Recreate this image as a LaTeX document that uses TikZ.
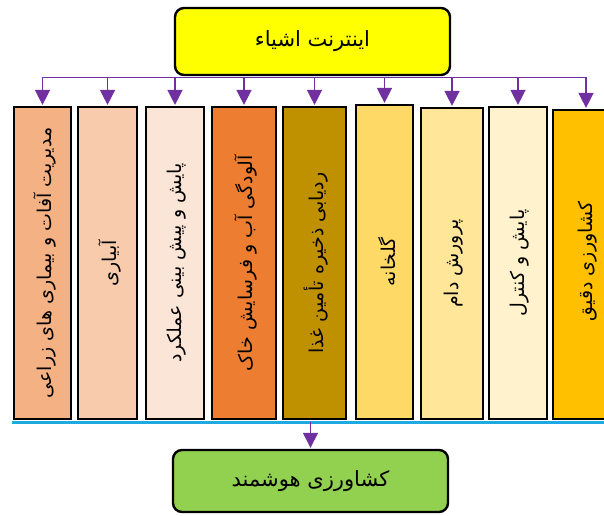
\documentclass[tikz,border=0pt]{standalone}
\usepackage{fontspec}
\usepackage{xcolor}
\usetikzlibrary{arrows.meta}
\newfontfamily\arabicfont[Script=Arabic]{DejaVu Sans}
\TeXXeTstate=1

\definecolor{iotyellow}{HTML}{FFFF00}
\definecolor{smartgreen}{HTML}{92D050}
\definecolor{arrowpurple}{HTML}{7030A0}
\definecolor{baseblue}{HTML}{1FA9E1}
\definecolor{colA}{HTML}{F4B183}
\definecolor{colB}{HTML}{F8CBAD}
\definecolor{colC}{HTML}{FBE5D6}
\definecolor{colD}{HTML}{ED7D31}
\definecolor{colE}{HTML}{BF9000}
\definecolor{colF}{HTML}{FFD966}
\definecolor{colG}{HTML}{FFE699}
\definecolor{colH}{HTML}{FFF2CC}
\definecolor{colI}{HTML}{FFC000}

\begin{document}
\begin{tikzpicture}[x=1pt,y=-1pt,
    box/.style={draw=black,line width=2.4pt,rounded corners=9pt,minimum width=275pt,
                font=\arabicfont\fontsize{21}{24}\selectfont},
    col/.style={draw=black,line width=2.2pt,inner sep=0pt},
    lbl/.style={font=\arabicfont\fontsize{19}{22}\selectfont,rotate=90,inner sep=0pt},
    arr/.style={draw=arrowpurple,line width=1.4pt,-{Triangle[length=15pt,width=15pt]}}]
  \clip (0,0) rectangle (604,515);
  \fill[white] (0,0) rectangle (604,515);

  % Top and bottom boxes
  \node[box,fill=iotyellow,minimum height=67pt] (iot) at (312.5,41.5) {\beginR اینترنت اشیاء\endR};
  \node[box,fill=smartgreen,minimum height=62pt] (smart) at (310.5,481) {\beginR کشاورزی هوشمند\endR};

  % Draw columns
  \foreach \n/\cx/\w/\ty/\clr/\txt in {
      1/42.5/57/107/colA/{مدیریت آفات و بیماری های زراعی},
      2/107.5/59/107/colB/{آبیاری},
      3/175/58/107/colC/{پایش و پیش بینی عملکرد},
      4/244/64/107/colD/{آلودگی آب و فرسایش خاک},
      5/314.5/63/107/colE/{ردیابی ذخیره تأمین غذا},
      6/384.5/57/105/colF/{گلخانه},
      7/452/62/108/colG/{پرورش دام},
      8/518/58/107/colH/{پایش و کنترل},
      9/586/66/110/colI/{کشاورزی دقیق}
  } {
      \node[col,fill=\clr,minimum width=\w pt,minimum height={(419-\ty)*1pt}] (c\n) at (\cx,{(\ty+419)/2}) {};
      \node[lbl] (t\n) at ([xshift=2pt]c\n.center) {\beginR\txt\endR};
      \draw[arr] ([yshift=-1pt]iot.south -| c\n.north) -- ([yshift=1pt]c\n.north);
  }
  \draw[arrowpurple,line width=1.4pt] ([yshift=-1pt]iot.south -| c1.north) -- ([yshift=-1pt]iot.south -| c9.north);

  % Base line and arrow down
  \coordinate (bl) at (12,422);
  \coordinate (br) at (604,422);
  \draw[baseblue,line width=3pt] (bl) -- (br);
  \draw[arr] (smart.north |- bl) -- ([yshift=1pt]smart.north);
\end{tikzpicture}
\end{document}
